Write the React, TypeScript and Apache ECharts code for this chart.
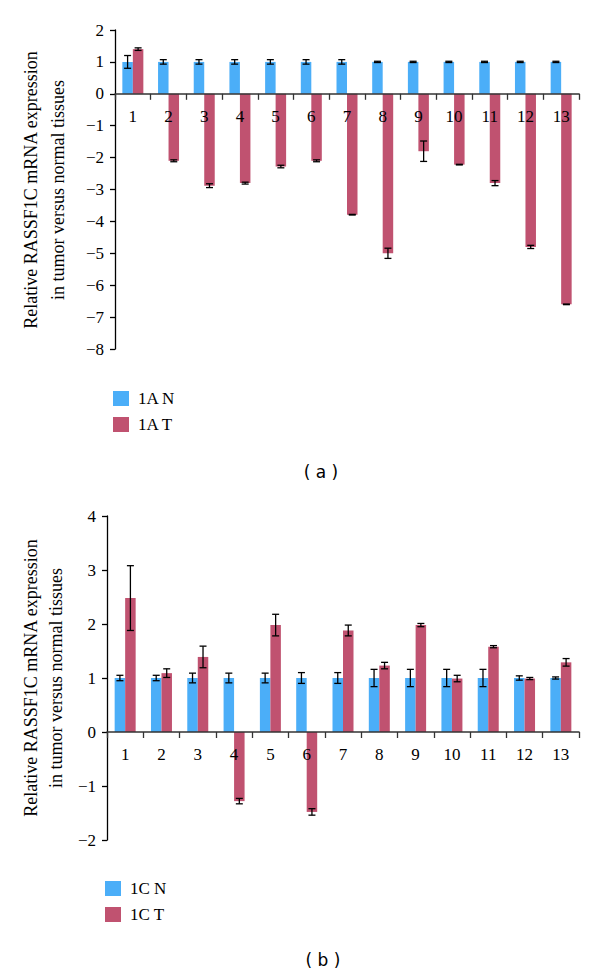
import React, { useEffect, useRef } from "react";
import * as echarts from "echarts";

const categories = ["1", "2", "3", "4", "5", "6", "7", "8", "9", "10", "11", "12", "13"];

// Panel (a)
const aN = [1, 1, 1, 1, 1, 1, 1, 1, 1, 1, 1, 1, 1];
const aNErr = [0.2, 0.07, 0.07, 0.07, 0.07, 0.07, 0.07, 0.02, 0.02, 0.02, 0.02, 0.02, 0.02];
const aT = [1.4, -2.1, -2.88, -2.8, -2.28, -2.1, -3.79, -5.0, -1.8, -2.22, -2.8, -4.8, -6.6];
const aTErr = [0.04, 0.03, 0.06, 0.03, 0.04, 0.03, 0.01, 0.16, 0.32, 0.01, 0.08, 0.05, 0.01];

// Panel (b)
const cN = [1, 1, 1, 1, 1, 1, 1, 1, 1, 1, 1, 1, 1];
const cNErr = [0.05, 0.05, 0.09, 0.09, 0.09, 0.1, 0.1, 0.16, 0.16, 0.16, 0.16, 0.04, 0.02];
const cT = [2.48, 1.09, 1.39, -1.28, 1.98, -1.48, 1.88, 1.23, 1.98, 0.99, 1.58, 0.99, 1.29];
const cTErr = [0.6, 0.08, 0.2, 0.05, 0.2, 0.06, 0.1, 0.06, 0.03, 0.06, 0.02, 0.02, 0.07];

const seriesNames = ["1A N", "1A T", "1C N", "1C T"];
const yTitle = ["Relative RASSF1C mRNA expression", "in tumor versus normal tissues"];

const BLUE = "#4baef8";
const RED = "#c05270";
const SERIF = "'Liberation Serif', 'Times New Roman', serif";
const BAR_W = 10.5;

export default function App() {
  const ref = useRef<HTMLDivElement>(null);
  useEffect(() => {
    if (!ref.current) return;
    const chart = echarts.init(ref.current, undefined, { renderer: "svg" });

    const errData = (vals: number[], errs: number[], side: number) =>
      vals.map((v, i) => [i, v, errs[i], side]);

    const errSeries = (name: string, data: number[][], gi: number) => ({
      type: "custom",
      name,
      xAxisIndex: gi,
      yAxisIndex: gi,
      z: 5,
      silent: true,
      data,
      renderItem: (params: any, api: any) => {
        const i = api.value(0);
        const v = api.value(1);
        const e = api.value(2);
        const side = api.value(3);
        const hi = api.coord([i, v + e]);
        const lo = api.coord([i, v - e]);
        const x = hi[0] + (side * BAR_W) / 2;
        const cw = 3.5;
        const style = { stroke: "#000", lineWidth: 1.3 };
        return {
          type: "group",
          children: [
            { type: "line", shape: { x1: x, y1: hi[1], x2: x, y2: lo[1] }, style },
            { type: "line", shape: { x1: x - cw, y1: hi[1], x2: x + cw, y2: hi[1] }, style },
            { type: "line", shape: { x1: x - cw, y1: lo[1], x2: x + cw, y2: lo[1] }, style },
          ],
        };
      },
    });

    // offset places the category axis on the zero line of its grid
    const xAxisBase = (gi: number, offset: number) => ({
      type: "category",
      gridIndex: gi,
      data: categories,
      position: "bottom",
      offset,
      z: 3,
      axisLine: { onZero: false, lineStyle: { color: "#333", width: 1.5 } },
      axisTick: { show: true, length: 6, lineStyle: { color: "#333", width: 1.3 } },
      axisLabel: { color: "#000", fontFamily: SERIF, fontSize: 17, margin: 14 },
      splitLine: { show: false },
    });

    const yAxisBase = (gi: number, min: number, max: number) => ({
      type: "value",
      gridIndex: gi,
      min,
      max,
      interval: 1,
      axisLine: { show: true, lineStyle: { color: "#000", width: 1.3 } },
      axisTick: { show: true, length: 5, lineStyle: { color: "#000", width: 1.3 } },
      axisLabel: {
        color: "#000",
        fontFamily: SERIF,
        fontSize: 17,
        margin: 11,
        formatter: (v: number) => String(v).replace("-", "\u2212"),
      },
      splitLine: { show: false },
    });

    const barSeries = (name: string, data: number[], color: string, gi: number) => ({
      type: "bar",
      name,
      xAxisIndex: gi,
      yAxisIndex: gi,
      data,
      barWidth: BAR_W,
      barGap: "0%",
      itemStyle: { color },
      z: 2,
    });

    const legendBase = (names: string[], left: number, top: number) => ({
      data: names,
      orient: "vertical",
      left,
      top,
      padding: 0,
      icon: "rect",
      itemWidth: 16,
      itemHeight: 15,
      itemGap: 9,
      selectedMode: false,
      textStyle: { color: "#000", fontFamily: SERIF, fontSize: 17, padding: [0, 0, 0, 4] },
    });

    const titleText = (x: number, y: number, lh: number) => ({
      type: "text",
      x,
      y,
      rotation: Math.PI / 2,
      style: {
        text: yTitle.join("\n"),
        font: "18px 'Liberation Serif', 'Times New Roman', serif",
        lineHeight: lh,
        fill: "#000",
        align: "center",
        verticalAlign: "middle",
      },
    });

    const panelText = (text: string, x: number, y: number) => ({
      type: "text",
      x,
      y,
      style: {
        text,
        font: "17px 'DejaVu Sans', sans-serif",
        fill: "#000",
        align: "center",
        verticalAlign: "middle",
      },
    });

    chart.setOption({
      animation: false,
      backgroundColor: "#fff",
      grid: [
        { left: 115, right: 21, top: 30, height: 319 },
        { left: 107, right: 21, top: 516, height: 324 },
      ],
      xAxis: [xAxisBase(0, -255.2), xAxisBase(1, -108)],
      yAxis: [yAxisBase(0, -8, 2), yAxisBase(1, -2, 4)],
      legend: [
        legendBase([seriesNames[0], seriesNames[1]], 113, 390),
        legendBase([seriesNames[2], seriesNames[3]], 105, 880),
      ],
      graphic: [
        titleText(44, 190, 27),
        titleText(43, 678, 25),
        panelText("( a )", 321, 472),
        panelText("( b )", 323, 960),
      ],
      series: [
        barSeries(seriesNames[0], aN, BLUE, 0),
        barSeries(seriesNames[1], aT, RED, 0),
        errSeries("errAN", errData(aN, aNErr, -1), 0),
        errSeries("errAT", errData(aT, aTErr, 1), 0),
        barSeries(seriesNames[2], cN, BLUE, 1),
        barSeries(seriesNames[3], cT, RED, 1),
        errSeries("errCN", errData(cN, cNErr, -1), 1),
        errSeries("errCT", errData(cT, cTErr, 1), 1),
      ],
    });
    return () => chart.dispose();
  }, []);
  return (
    <div
      ref={ref}
      style={{ position: "fixed", left: 0, top: 0, width: 600, height: 976, background: "#fff" }}
    />
  );
}
